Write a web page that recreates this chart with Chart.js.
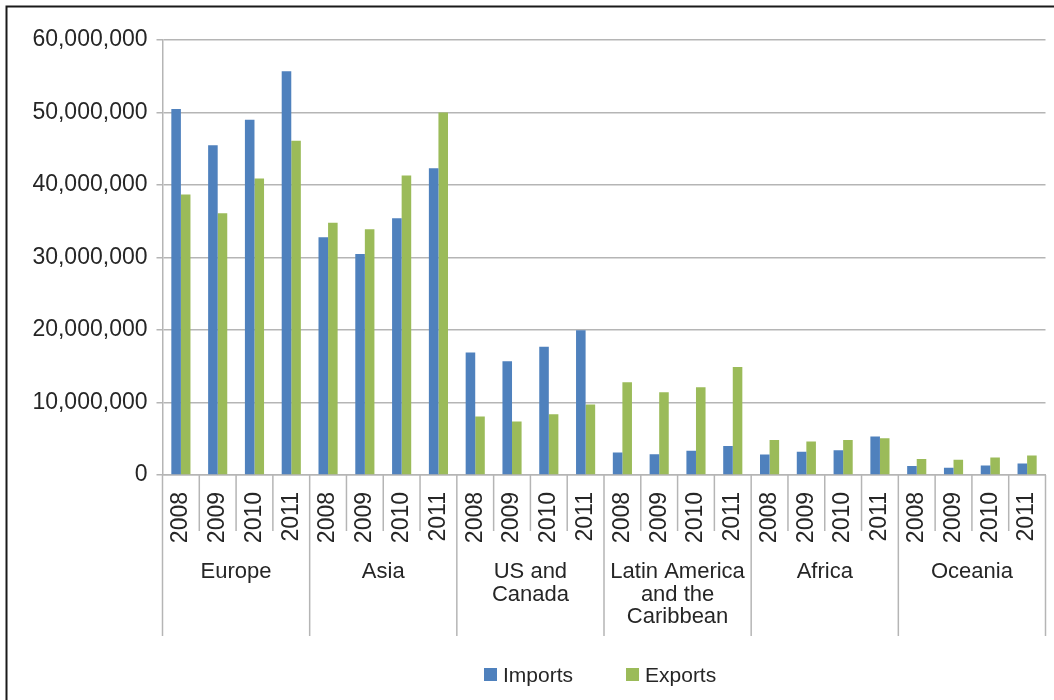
<!DOCTYPE html>
<html>
<head>
<meta charset="utf-8">
<script src="https://cdn.jsdelivr.net/npm/chart.js@4.4.1/dist/chart.umd.min.js"></script>
<style>
  html, body { margin: 0; padding: 0; background: #fff; }
</style>
</head>
<body>
<canvas id="chart" width="1054" height="700"></canvas>
<script>
// Данные графика: регионы, годы, импорт и экспорт
const regionLines = [["Europe"], ["Asia"], ["US and", "Canada"], ["Latin America", "and the", "Caribbean"], ["Africa"], ["Oceania"]]
const years = ["2008", "2009", "2010", "2011"]
const importsValues = [
  50500000, 45500000, 49000000, 55700000,
  32800000, 30500000, 35400000, 42300000,
  16900000, 15700000, 17700000, 19950000,
  3100000, 2860000, 3360000, 4000000,
  2830000, 3200000, 3420000, 5300000,
  1230000, 1000000, 1320000, 1600000
]
const exportsValues = [
  38700000, 36100000, 40900000, 46100000,
  34800000, 33900000, 41300000, 50000000,
  8060000, 7370000, 8390000, 9720000,
  12800000, 11400000, 12100000, 14900000,
  4840000, 4610000, 4840000, 5070000,
  2190000, 2100000, 2420000, 2690000
]
const yMax = 60000000
const yStep = 10000000

const labels = regionLines.flatMap(() => years)
const gridColor = "#b5b5b5"
const textColor = "#262626"
const font = "Liberation Sans"

const fmt = v => String(v).replace(/\B(?=(\d{3})+(?!\d))/g, ",")

// Рамка, разделители оси X, подписи регионов и легенда
const decorations = {
  id: "decorations",
  beforeDraw(chart) {
    const ctx = chart.ctx
    ctx.save()
    ctx.fillStyle = "#fff"
    ctx.fillRect(0, 0, chart.width, chart.height)
    ctx.restore()
  },
  afterDraw(chart) {
    const ctx = chart.ctx
    const x = chart.scales.x
    const area = chart.chartArea
    const step = x.getPixelForValue(1) - x.getPixelForValue(0)
    const start = x.getPixelForValue(0) - step / 2

    ctx.save()
    ctx.strokeStyle = gridColor
    ctx.lineWidth = 1.5
    for (let i = 0; i <= labels.length; i++) {
      const px = start + i * step
      const long = i % years.length === 0
      ctx.beginPath()
      ctx.moveTo(px, area.bottom)
      ctx.lineTo(px, long ? area.bottom + 161 : area.bottom + 56)
      ctx.stroke()
    }

    ctx.fillStyle = textColor
    ctx.font = `22px "${font}"`
    ctx.textAlign = "center"
    ctx.textBaseline = "middle"
    regionLines.forEach((lines, g) => {
      const cx = (x.getPixelForValue(g * 4) + x.getPixelForValue(g * 4 + 3)) / 2
      lines.forEach((t, k) => ctx.fillText(t, cx, area.bottom + 97 + k * 22.5))
    })

    // рамка
    ctx.strokeStyle = "#1a1a1a"
    ctx.lineWidth = 2
    ctx.beginPath()
    ctx.moveTo(6.5, chart.height)
    ctx.lineTo(6.5, 6.5)
    ctx.lineTo(chart.width, 6.5)
    ctx.stroke()

    // легенда
    ctx.font = `21px "${font}"`
    ctx.textAlign = "left"
    let lx = 484
    const ly = 675
    chart.data.datasets.forEach(ds => {
      ctx.fillStyle = ds.backgroundColor
      ctx.fillRect(lx, ly - 7, 13, 13)
      ctx.fillStyle = textColor
      ctx.fillText(ds.label, lx + 19, ly + 1)
      lx += 19 + ctx.measureText(ds.label).width + 53
    })
    ctx.restore()
  }
}

new Chart(document.getElementById("chart"), {
  type: "bar",
  data: {
    labels,
    datasets: [
      { label: "Imports", data: importsValues, backgroundColor: "#4F81BD" },
      { label: "Exports", data: exportsValues, backgroundColor: "#9BBB59" }
    ]
  },
  options: {
    responsive: false,
    animation: false,
    devicePixelRatio: 1,
    layout: { padding: { top: 40, right: 8.5, left: 0, bottom: 0 } },
    datasets: { bar: { categoryPercentage: 0.52, barPercentage: 1 } },
    plugins: {
      legend: { display: false },
      tooltip: { enabled: false }
    },
    scales: {
      x: {
        grid: { display: false },
        border: { display: true, color: gridColor, width: 1.5 },
        ticks: {
          autoSkip: false,
          minRotation: 90,
          maxRotation: 90,
          padding: 9,
          color: textColor,
          font: { family: font, size: 23 }
        },
        afterFit(scale) {
          scale.height = 225
          scale.paddingRight = 0
          scale.paddingLeft = 0
        }
      },
      y: {
        min: 0,
        max: yMax,
        border: { display: true, color: gridColor, width: 1.5 },
        grid: { color: gridColor, lineWidth: 1.5, tickLength: 6 },
        ticks: {
          stepSize: yStep,
          padding: 9,
          color: textColor,
          font: { family: font, size: 23 },
          callback: v => fmt(v)
        },
        afterFit(scale) { scale.width = 162.5 }
      }
    }
  },
  plugins: [decorations]
})
</script>
</body>
</html>
